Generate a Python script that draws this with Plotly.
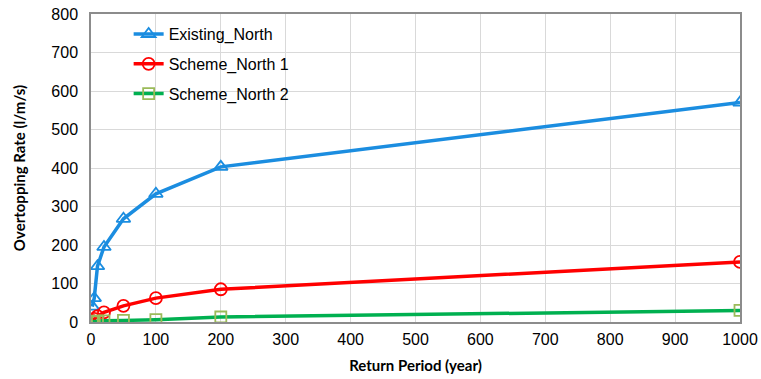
import plotly.graph_objects as go

# Return periods (years) and overtopping rates (l/m/s)
return_period = [2, 5, 10, 20, 50, 100, 200, 1000]
existing_north = [40, 62, 145, 195, 268, 333, 403, 570]
scheme_north_1 = [3, 8, 15, 25, 42, 62, 85, 156]
scheme_north_2 = [0.5, 1, 2, 3, 4, 6, 13, 30]

x_ticks = list(range(0, 1001, 100))
y_ticks = list(range(0, 801, 100))

series = [
    ("Existing_North", existing_north, "#1b8de0", "#1b8de0", "triangle-up-open", 12),
    ("Scheme_North 1", scheme_north_1, "#ff0000", "#ff0000", "circle-open", 12),
    ("Scheme_North 2", scheme_north_2, "#00b050", "#9bbb59", "square-open", 11),
]

fig = go.Figure()
for name, values, line_color, marker_color, symbol, size in series:
    fig.add_trace(go.Scatter(
        x=return_period, y=values, name=name, mode="lines+markers",
        legendgroup=name,
        line=dict(color=line_color, width=3.5),
        marker=dict(symbol=symbol, size=size, color=marker_color,
                    line=dict(color=marker_color, width=1.8)),
    ))

axis_common = dict(
    showline=True, linecolor="#8c8c8c", linewidth=1.5, mirror=True,
    showgrid=True, gridcolor="#d9d9d9", gridwidth=1,
    zeroline=False, ticks="", automargin=False,
    tickfont=dict(family="Liberation Sans, Arial", size=16, color="#000000"),
)

fig.update_layout(
    width=761, height=379,
    margin=dict(l=91, r=21, t=14, b=57),
    paper_bgcolor="white", plot_bgcolor="white",
    xaxis=dict(range=[0, 1000], tickvals=x_ticks, ticklabelstandoff=2,
               title=dict(text="<b>Return Period (year)</b>", standoff=14,
                          font=dict(family="Lato", size=15, color="#000000")),
               **axis_common),
    yaxis=dict(range=[0, 800], tickvals=y_ticks, ticklabelstandoff=8,
               title=dict(text="<b>Overtopping Rate (l/m/s)</b>", standoff=22,
                          font=dict(family="Lato", size=15, color="#000000")),
               **axis_common),
    legend=dict(x=0.058, y=0.99, xanchor="left", yanchor="top",
                traceorder="grouped", tracegroupgap=6,
                bgcolor="rgba(255,255,255,0)",
                font=dict(family="Liberation Sans, Arial", size=16, color="#000000")),
    showlegend=True,
)

fig.write_html("out.html")
